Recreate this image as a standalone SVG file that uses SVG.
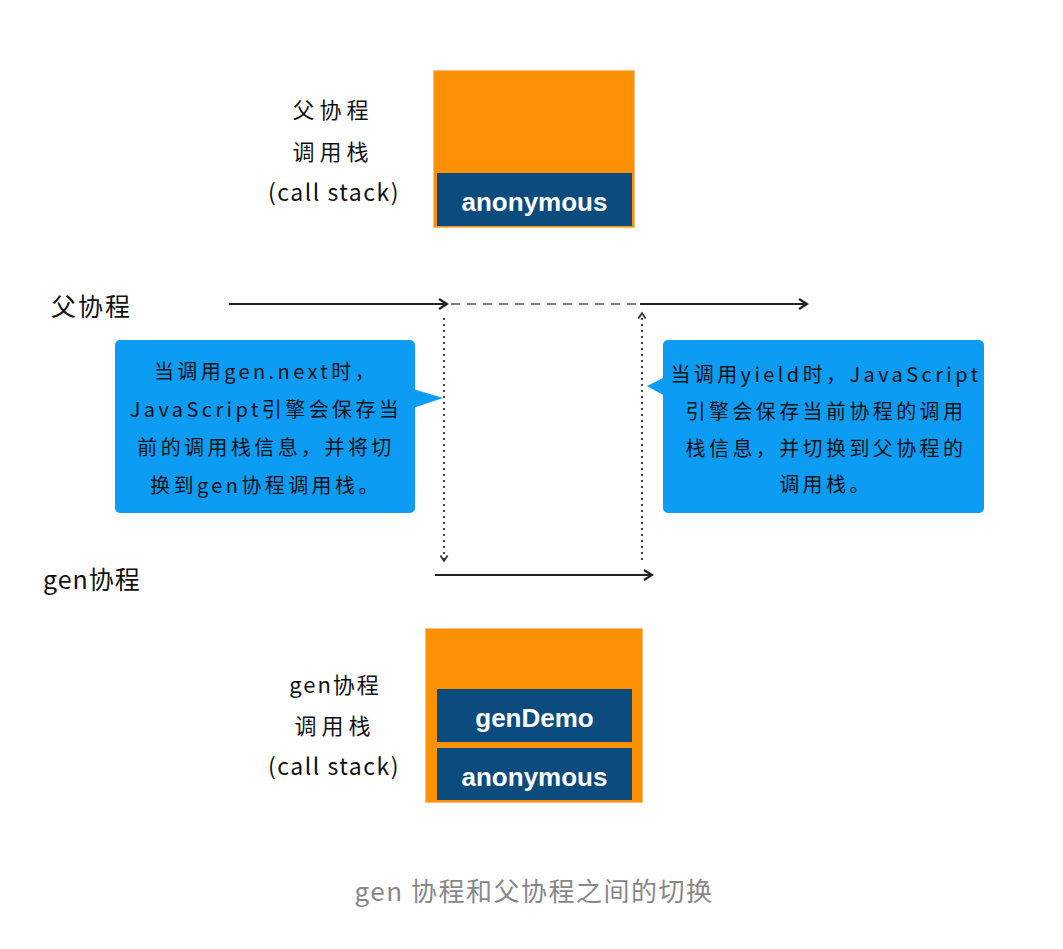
<svg xmlns="http://www.w3.org/2000/svg" width="1063" height="949" viewBox="0 0 1063 949">
<defs>
<style>
.hand{font-family:"Noto Sans CJK SC","Noto Sans",sans-serif;fill:#111;}
.lbl{font-size:22px;text-anchor:middle;letter-spacing:5px;}
.cs{font-size:23px;letter-spacing:1.5px;}
.main{font-size:25px;letter-spacing:2px;}
.call{font-size:20px;text-anchor:middle;letter-spacing:3.4px;}
.orange{fill:#fd9103;stroke:#fdbf80;stroke-width:1;}
.frame{fill:#0c4b7e;}
.ftxt{font-family:"Liberation Sans",Arial,sans-serif;font-size:26px;font-weight:bold;fill:#fff;text-anchor:middle;}
.bubble{fill:#0d9cf3;}
.solid{stroke:#222;stroke-width:2;fill:none;}
.dash{stroke:#555;stroke-width:1.5;stroke-dasharray:9,7;fill:none;}
.dot{stroke:#444;stroke-width:2;stroke-dasharray:2,4;fill:none;}
.cap{font-family:"Noto Sans CJK SC","Noto Sans",sans-serif;font-size:26px;fill:#888;text-anchor:middle;letter-spacing:1.5px;}
</style>
<marker id="ah" viewBox="0 0 12 12" refX="10" refY="6" markerWidth="12" markerHeight="12" markerUnits="userSpaceOnUse" orient="auto">
<path d="M2,1 L10,6 L2,11" fill="none" stroke="#222" stroke-width="2.2"/>
</marker>
<marker id="ahs" viewBox="0 0 10 10" refX="8" refY="5" markerWidth="9" markerHeight="9" markerUnits="userSpaceOnUse" orient="auto">
<path d="M2,1 L8,5 L2,9" fill="none" stroke="#333" stroke-width="2"/>
</marker>
</defs>
<rect width="1063" height="949" fill="#fff"/>

<g id="parent-stack">
<rect class="orange" x="433.5" y="70.5" width="201" height="157"/>
<rect class="frame" x="437" y="173" width="195" height="53"/>
<text class="ftxt" x="534.5" y="211">anonymous</text>
</g>
<g id="parent-stack-label" class="hand">
<text class="lbl" x="333" y="118">父协程</text>
<text class="lbl" x="333" y="160">调用栈</text>
<text class="lbl cs" x="334" y="201">(call stack)</text>
</g>

<g id="parent-label" class="hand">
<text class="main" x="51" y="316">父协程</text>
</g>
<g id="gen-label" class="hand">
<text class="main" x="43" y="589" style="letter-spacing:1px">gen协程</text>
</g>

<g id="connectors">
<line class="solid" x1="229" y1="304" x2="447" y2="304" marker-end="url(#ah)"/>
<line class="dash" x1="451" y1="304" x2="640" y2="304"/>
<line class="solid" x1="640" y1="304" x2="807" y2="304" marker-end="url(#ah)"/>
<line class="dot" x1="444" y1="318" x2="444" y2="561" marker-end="url(#ahs)"/>
<line class="dot" x1="642" y1="560" x2="642" y2="313" marker-end="url(#ahs)"/>
<line class="solid" x1="435" y1="575" x2="652" y2="575" marker-end="url(#ah)"/>
</g>

<g id="left-callout">
<rect class="bubble" x="115" y="340" width="300" height="173" rx="5"/>
<path class="bubble" d="M413,389 L443,398 L413,408 Z"/>
<g class="hand call">
<text x="266" y="379">当调用gen.next时，</text>
<text x="266" y="417">JavaScript引擎会保存当</text>
<text x="266" y="455">前的调用栈信息，并将切</text>
<text x="266" y="493">换到gen协程调用栈。</text>
</g>
</g>

<g id="right-callout">
<rect class="bubble" x="663" y="340" width="321" height="173" rx="5"/>
<path class="bubble" d="M665,377 L647,386 L665,396 Z"/>
<g class="hand call">
<text x="826" y="382">当调用yield时，JavaScript</text>
<text x="826" y="419">引擎会保存当前协程的调用</text>
<text x="826" y="456">栈信息，并切换到父协程的</text>
<text x="826" y="492">调用栈。</text>
</g>
</g>

<g id="gen-stack">
<rect class="orange" x="425.5" y="628.5" width="217" height="174"/>
<rect class="frame" x="437" y="689" width="195" height="53"/>
<text class="ftxt" x="534.5" y="727">genDemo</text>
<rect class="frame" x="437" y="748" width="195" height="52"/>
<text class="ftxt" x="534.5" y="786">anonymous</text>
</g>
<g id="gen-stack-label" class="hand">
<text class="lbl" x="335" y="693" style="letter-spacing:2px">gen协程</text>
<text class="lbl" x="335" y="734">调用栈</text>
<text class="lbl cs" x="334" y="775">(call stack)</text>
</g>

<g id="caption">
<text class="cap" x="534" y="901">gen 协程和父协程之间的切换</text>
</g>
</svg>
